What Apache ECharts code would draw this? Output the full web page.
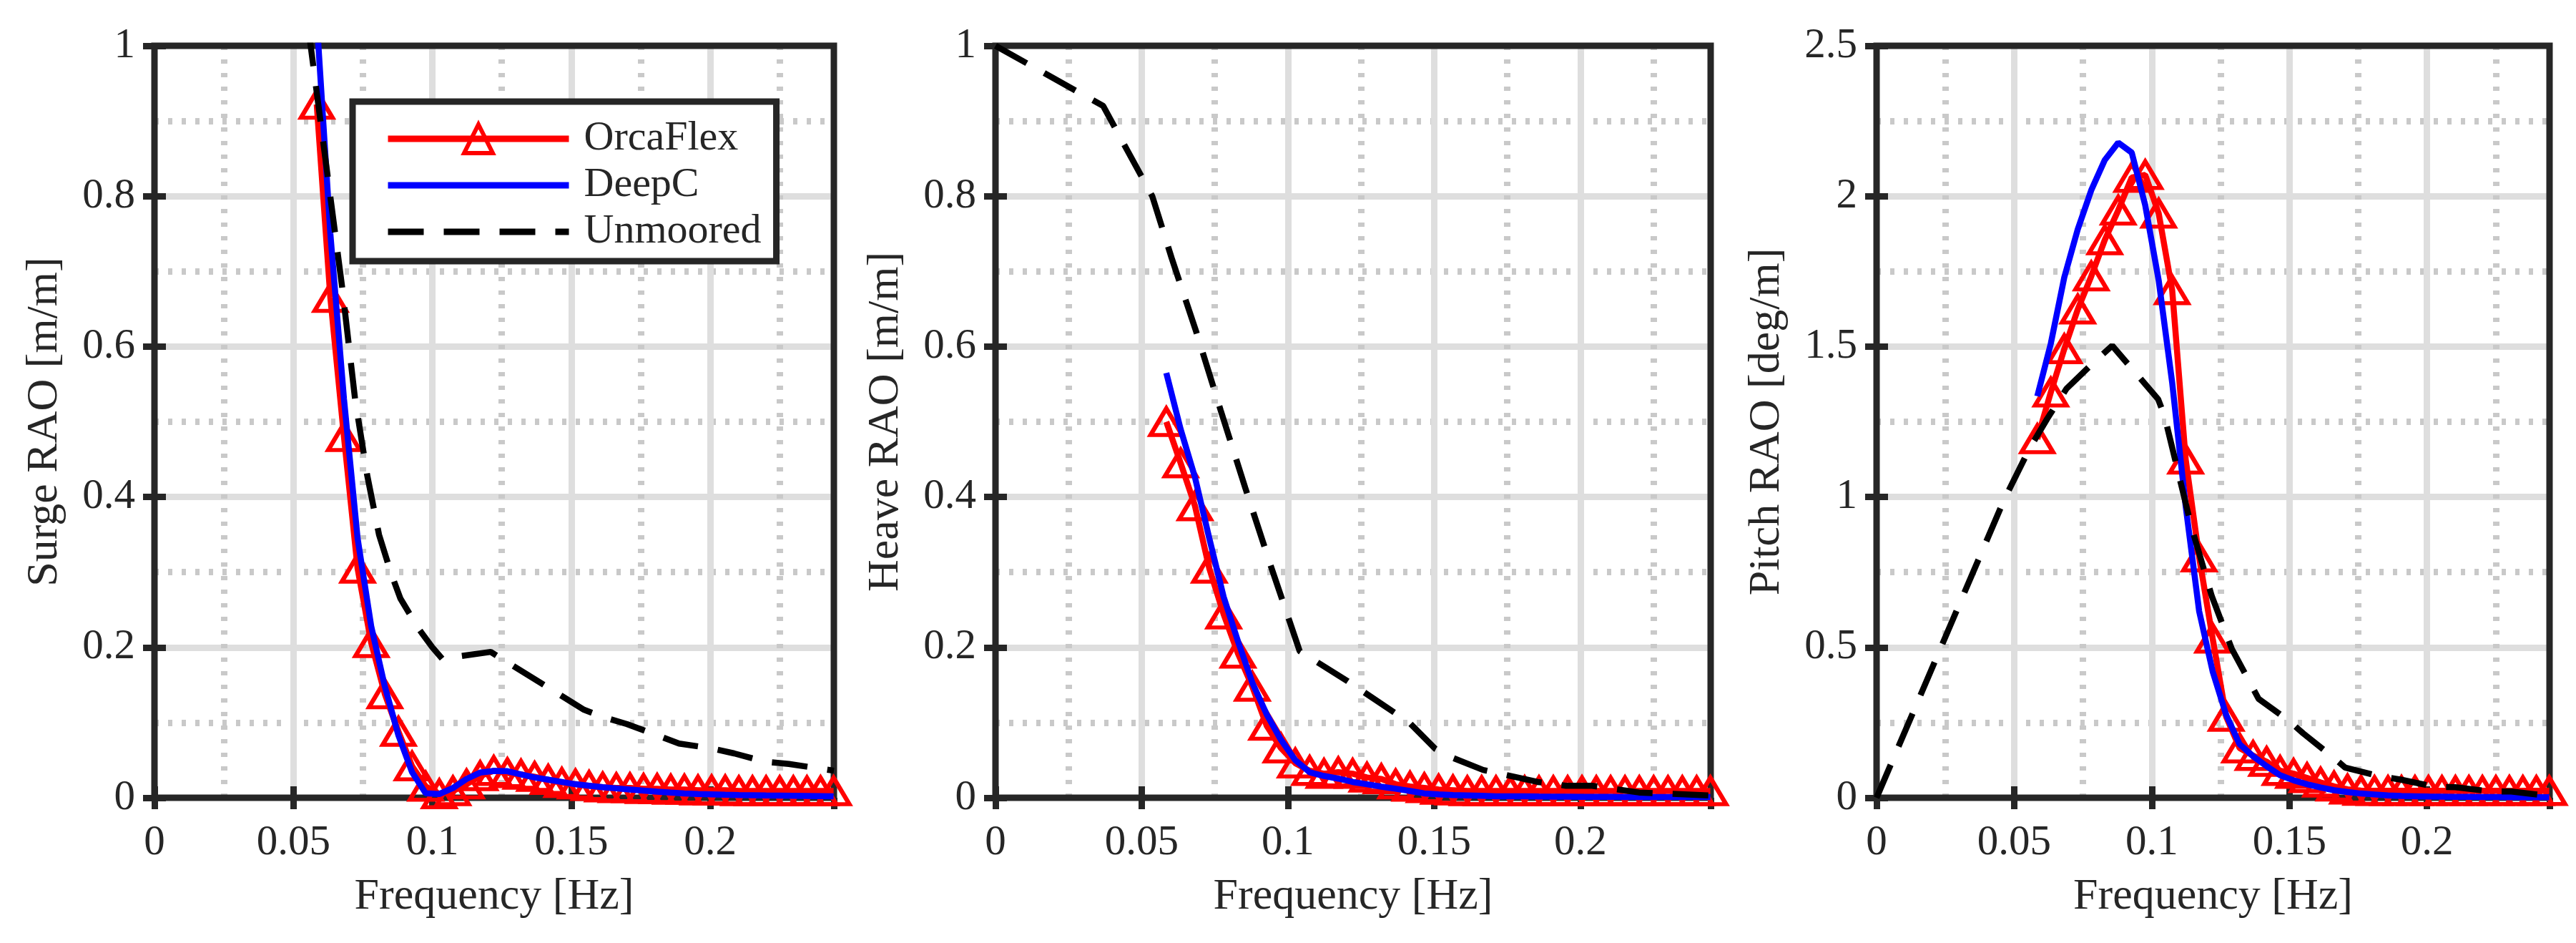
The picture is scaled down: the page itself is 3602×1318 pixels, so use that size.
<!DOCTYPE html>
<html><head><meta charset="utf-8">
<script src="https://cdn.jsdelivr.net/npm/echarts@6/dist/echarts.min.js"></script>
<style>html,body{margin:0;padding:0;background:#fff}#c{width:3602px;height:1318px}</style>
</head><body><div id="c"></div>
<script>
// ---- data (frequency in Hz) ----
const freq = [0.0584,0.0633,0.0682,0.0731,0.0780,0.0829,0.0878,0.0927,0.0976,0.1025,
  0.1074,0.1123,0.1172,0.1221,0.1270,0.1319,0.1368,0.1417,0.1466,0.1515,
  0.1564,0.1613,0.1662,0.1711,0.1760,0.1809,0.1858,0.1907,0.1956,0.2005,
  0.2054,0.2103,0.2152,0.2201,0.2250,0.2299,0.2348,0.2397,0.2444];

const surgeOrcaFlex = [0.922,0.665,0.480,0.305,0.206,0.138,0.088,0.042,0.015,0.005,
  0.009,0.018,0.029,0.036,0.033,0.031,0.028,0.024,0.020,0.018,
  0.016,0.014,0.013,0.013,0.012,0.012,0.011,0.011,0.010,0.010,
  0.010,0.009,0.009,0.009,0.009,0.009,0.009,0.009,0.009];
const surgeDeepC = [1.035,0.750,0.530,0.345,0.228,0.148,0.083,0.034,0.006,0.005,
  0.013,0.025,0.0335,0.0357,0.0354,0.031,0.027,0.024,0.021,0.018,
  0.016,0.014,0.0125,0.011,0.0095,0.008,0.0068,0.0058,0.005,0.0045,
  0.004,0.0036,0.0033,0.003,0.0028,0.0026,0.0024,0.0022,0.002];
const surgeUnmooredFreq = [0.0555,0.0675,0.0722,0.0765,0.0808,0.0850,0.0885,0.0950,0.1000,0.1035,0.1210,0.1546,0.1618,0.1700,0.1810,0.1888,0.2000,0.2086,0.2197,0.2283,0.2445];
const surgeUnmoored = [1.02,0.68,0.53,0.43,0.35,0.30,0.265,0.225,0.20,0.185,0.194,0.117,0.107,0.098,0.083,0.072,0.066,0.059,0.048,0.045,0.036];

const heaveOrcaFlex = [0.500,0.445,0.388,0.305,0.244,0.192,0.148,0.096,0.066,0.046,
  0.036,0.032,0.034,0.032,0.027,0.025,0.018,0.015,0.013,0.011,
  0.010,0.009,0.009,0.009,0.009,0.009,0.009,0.009,0.009,0.009,
  0.009,0.009,0.009,0.009,0.009,0.009,0.009,0.009,0.009];
const heaveDeepC = [0.565,0.490,0.426,0.345,0.267,0.208,0.153,0.111,0.077,0.050,
  0.034,0.029,0.0255,0.021,0.018,0.0148,0.012,0.009,0.0058,0.0045,
  0.0035,0.003,0.0025,0.002,0.002,0.0018,0.0016,0.0015,0.0014,0.0013,
  0.0012,0.0011,0.001,0.001,0.001,0.001,0.001,0.001,0.001];
const heaveUnmooredFreq = [0,0.0368,0.0536,0.0602,0.0686,0.0770,0.0854,0.0938,0.1040,0.1204,0.1365,0.1417,0.1504,0.1564,0.1667,0.1854,0.1950,0.2040,0.2200,0.2445];
const heaveUnmoored = [1.0,0.92,0.80,0.718,0.62,0.515,0.412,0.312,0.195,0.155,0.113,0.099,0.065,0.053,0.037,0.021,0.016,0.016,0.007,0.003];

const pitchOrcaFlex = [1.193,1.348,1.492,1.624,1.734,1.854,1.953,2.062,2.071,1.943,
  1.688,1.125,0.800,0.530,0.270,0.165,0.140,0.120,0.090,0.080,
  0.066,0.051,0.038,0.028,0.024,0.023,0.023,0.023,0.023,0.023,
  0.023,0.023,0.023,0.023,0.023,0.023,0.023,0.023,0.023];
const pitchDeepC = [1.335,1.510,1.730,1.890,2.020,2.120,2.178,2.145,1.970,1.720,
  1.380,0.970,0.620,0.420,0.276,0.178,0.138,0.105,0.075,0.058,
  0.045,0.034,0.025,0.019,0.014,0.011,0.008,0.006,0.005,0.004,
  0.0035,0.003,0.003,0.0025,0.0025,0.002,0.002,0.002,0.002];
const pitchUnmooredFreq = [0,0.0463,0.0555,0.0620,0.0690,0.0792,0.0856,0.1023,0.1046,0.1144,0.1218,0.1291,0.1388,0.1495,0.1550,0.1653,0.1703,0.1830,0.1906,0.2030,0.2103,0.2233,0.2306,0.2445];
const pitchUnmoored = [0.0,0.99,1.16,1.26,1.36,1.45,1.503,1.325,1.27,0.90,0.67,0.494,0.329,0.258,0.214,0.139,0.100,0.071,0.060,0.036,0.035,0.021,0.021,0.006];

const xTitle = 'Frequency [Hz]';
const yTitles = ['Surge RAO [m/m]', 'Heave RAO [m/m]', 'Pitch RAO [deg/m]'];
const yMax = [1, 1, 2.5];
const yInterval = [0.2, 0.2, 0.5];
const xMax = 0.2445;
const seriesNames = ['OrcaFlex', 'DeepC', 'Unmoored'];

// ---- build ----
const FONT = 'Liberation Serif';
const TXT = '#262626';
const DASH = [50, 28];
const pair = (xs, ys) => xs.map((x, i) => [x, ys[i]]);
const panels = [
  {orca: surgeOrcaFlex, deep: surgeDeepC, uf: surgeUnmooredFreq, u: surgeUnmoored},
  {orca: heaveOrcaFlex, deep: heaveDeepC, uf: heaveUnmooredFreq, u: heaveUnmoored},
  {orca: pitchOrcaFlex, deep: pitchDeepC, uf: pitchUnmooredFreq, u: pitchUnmoored}
];
const gridBoxes = [
  {left: 216, top: 64, width: 950, height: 1051},
  {left: 1392, top: 64, width: 1000, height: 1051},
  {left: 2624, top: 64, width: 941, height: 1051}
];
const tick = {show: true, inside: true, length: 16, lineStyle: {color: TXT, width: 9}};
const grid = [], xAxis = [], yAxis = [], series = [];
gridBoxes.forEach((b, g) => {
  grid.push(Object.assign({show: true, z: 1, borderColor: TXT, borderWidth: 9, backgroundColor: 'transparent'}, b));
  xAxis.push({
    gridIndex: g, type: 'value', position: 'bottom', min: 0, max: xMax, interval: 0.05,
    axisLine: {show: false}, axisTick: tick,
    axisLabel: {color: TXT, fontFamily: FONT, fontSize: 59, margin: 34, showMaxLabel: false},
    splitLine: {show: true, showMinLine: false, showMaxLine: false, lineStyle: {color: '#dedede', width: 9}},
    name: xTitle, nameLocation: 'middle', nameGap: 108,
    nameTextStyle: {color: TXT, fontFamily: FONT, fontSize: 62}
  });
  xAxis.push({
    gridIndex: g, type: 'value', position: 'top', min: 0, max: xMax, interval: 0.05,
    axisLine: {show: false}, axisTick: tick, axisLabel: {show: false}, splitLine: {show: false}
  });
  xAxis.push({
    gridIndex: g, type: 'value', position: 'bottom', min: 0, max: xMax, interval: 0.025,
    axisLine: {show: false}, axisTick: {show: false}, axisLabel: {show: false},
    splitLine: {show: true, lineStyle: {color: ['rgba(0,0,0,0)', '#c9c9c9'], width: 9, type: [6, 13]}}
  });
  yAxis.push({
    gridIndex: g, type: 'value', position: 'left', min: 0, max: yMax[g], interval: yInterval[g],
    axisLine: {show: false}, axisTick: tick,
    axisLabel: {color: TXT, fontFamily: FONT, fontSize: 59, margin: 27},
    splitLine: {show: true, showMinLine: false, showMaxLine: false, lineStyle: {color: '#dedede', width: 9}},
    minorTick: {show: false, splitNumber: 2},
    minorSplitLine: {show: true, lineStyle: {color: '#c9c9c9', width: 9, type: [6, 13]}},
    name: yTitles[g], nameLocation: 'middle', nameGap: 122, nameRotate: 90,
    nameTextStyle: {color: TXT, fontFamily: FONT, fontSize: 62}
  });
  yAxis.push({
    gridIndex: g, type: 'value', position: 'right', min: 0, max: yMax[g], interval: yInterval[g],
    axisLine: {show: false}, axisTick: tick, axisLabel: {show: false}, splitLine: {show: false}
  });
  const p = panels[g];
  series.push({
    name: seriesNames[0], type: 'line', xAxisIndex: g * 3, yAxisIndex: g * 2,
    data: pair(freq, p.orca), symbol: 'triangle', symbolSize: [44, 37], showSymbol: true,
    itemStyle: {color: 'rgba(0,0,0,0)', borderColor: '#ff0000', borderWidth: 6},
    lineStyle: {color: '#ff0000', width: 8.5}, z: 2
  });
  series.push({
    name: seriesNames[1], type: 'line', xAxisIndex: g * 3, yAxisIndex: g * 2,
    data: pair(freq, p.deep), symbol: 'none', itemStyle: {color: '#0000ff', opacity: 0},
    lineStyle: {color: '#0000ff', width: 8.5}, z: 3
  });
  series.push({
    name: seriesNames[2], type: 'line', xAxisIndex: g * 3, yAxisIndex: g * 2,
    data: pair(p.uf, p.u), symbol: 'none', itemStyle: {color: '#000000', opacity: 0},
    lineStyle: {color: '#000000', width: 8.5, type: DASH}, z: 4
  });
});

const chart = echarts.init(document.getElementById('c'), null, {renderer: 'canvas'});
chart.setOption({
  animation: false,
  backgroundColor: '#ffffff',
  grid, xAxis, yAxis, series,
  legend: {
    left: 493, top: 142, orient: 'vertical', selectedMode: false,
    backgroundColor: '#ffffff', borderColor: TXT, borderWidth: 9,
    padding: [23, 21, 12, 45], itemGap: 7, itemWidth: 253, itemHeight: 50,
    textStyle: {color: TXT, fontFamily: FONT, fontSize: 58, lineHeight: 50, padding: [0, 0, 0, 16]},
    data: [
      {name: 'OrcaFlex', itemStyle: {color: 'rgba(0,0,0,0)', borderColor: '#ff0000', borderWidth: 6},
        lineStyle: {color: '#ff0000', width: 9, type: 'solid'}},
      {name: 'DeepC', itemStyle: {opacity: 0}, lineStyle: {color: '#0000ff', width: 9, type: 'solid'}},
      {name: 'Unmoored', itemStyle: {opacity: 0}, lineStyle: {color: '#000000', width: 9, type: DASH}}
    ]
  }
});
</script>
</body></html>
